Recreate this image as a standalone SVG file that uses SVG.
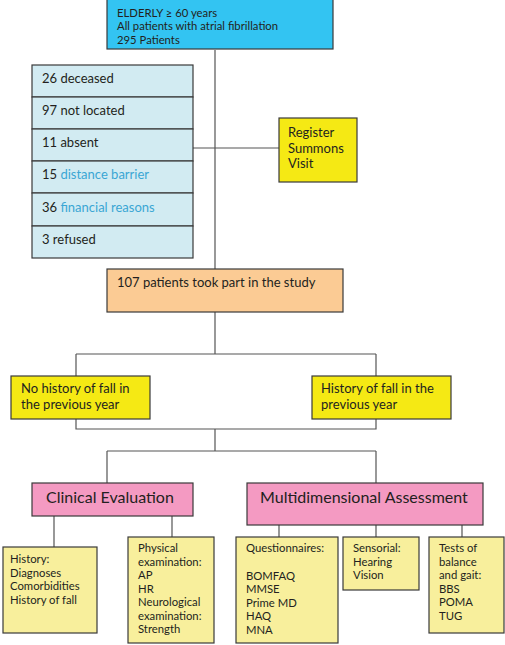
<svg xmlns="http://www.w3.org/2000/svg" width="505" height="645" viewBox="0 0 505 645">
<style>
text{font-family:Lato,"Liberation Sans",sans-serif;fill:#231f20}
.box{stroke:#3a3a3a;stroke-width:1.2}
.blue{fill:#33c4f2}
.list{fill:#d2ebf2}
.yel{fill:#f5e914}
.org{fill:#fbcb94}
.pink{fill:#f49ac2}
.pale{fill:#f8ef9c}
.t11{font-size:11.3px}
.t13{font-size:13px}
.t12{font-size:11.3px}
.t16{font-size:16px}
.hl{fill:#3aa6d4}
.conn{fill:none;stroke:#555;stroke-width:1.2}
</style>
<g id="connectors">
<path class="conn" d="M215 50V269M193 148H279M215 312V354M76 354H376M76 354V376M376 354V376M76 419V429H376V419M215 429V451M107 451H376M107 451V483M376 451V483M54 516V547M172 516V537M279 525V537M376 525V537M462 525V537"/>
</g>
<g id="n-elderly">
<rect class="box blue" x="107" y="-1" width="226" height="50"/>
<text class="t11" x="117" y="17">ELDERLY ≥ 60 years</text>
<text class="t11" x="117" y="30">All patients with atrial fibrillation</text>
<text class="t11" x="117" y="43.5">295 Patients</text>
</g>
<g id="n-excluded">
<rect class="box list" x="32" y="65" width="161" height="32"/>
<rect class="box list" x="32" y="97" width="161" height="32"/>
<rect class="box list" x="32" y="129" width="161" height="32"/>
<rect class="box list" x="32" y="161" width="161" height="32"/>
<rect class="box list" x="32" y="193" width="161" height="33"/>
<rect class="box list" x="32" y="226" width="161" height="32"/>
<text class="t13" x="42" y="83">26 deceased</text>
<text class="t13" x="42" y="115">97 not located</text>
<text class="t13" x="42" y="147">11 absent</text>
<text class="t13" x="42" y="179">15 <tspan class="hl">distance barrier</tspan></text>
<text class="t13" x="42" y="212">36 <tspan class="hl">financial reasons</tspan></text>
<text class="t13" x="42" y="244">3 refused</text>
</g>
<g id="n-register">
<rect class="box yel" x="279" y="118" width="78" height="64"/>
<text class="t13" x="288" y="137">Register</text>
<text class="t13" x="288" y="153">Summons</text>
<text class="t13" x="288" y="168">Visit</text>
</g>
<g id="n-study">
<rect class="box org" x="107" y="269" width="236" height="43"/>
<text class="t13" x="117" y="287">107 patients took part in the study</text>
</g>
<g id="n-nofall">
<rect class="box yel" x="11" y="376" width="139" height="43"/>
<text class="t13" x="21" y="393">No history of fall in</text>
<text class="t13" x="21" y="409">the previous year</text>
</g>
<g id="n-fall">
<rect class="box yel" x="312" y="376" width="139" height="43"/>
<text class="t13" x="321" y="393">History of fall in the</text>
<text class="t13" x="321" y="409">previous year</text>
</g>
<g id="n-clinical">
<rect class="box pink" x="32" y="483" width="161" height="33"/>
<text class="t16" x="46" y="503">Clinical Evaluation</text>
</g>
<g id="n-multi">
<rect class="box pink" x="247" y="483" width="236" height="42"/>
<text class="t16" x="260" y="503">Multidimensional Assessment</text>
</g>
<g id="n-history">
<rect class="box pale" x="3" y="547" width="94" height="86"/>
<text class="t12" x="10" y="563">History:</text>
<text class="t12" x="10" y="576.5">Diagnoses</text>
<text class="t12" x="10" y="590">Comorbidities</text>
<text class="t12" x="10" y="603.5">History of fall</text>
</g>
<g id="n-physical">
<rect class="box pale" x="128" y="537" width="86" height="106"/>
<text class="t12" x="138" y="552">Physical</text>
<text class="t12" x="138" y="565.5">examination:</text>
<text class="t12" x="138" y="579">AP</text>
<text class="t12" x="138" y="592.5">HR</text>
<text class="t12" x="138" y="606">Neurological</text>
<text class="t12" x="138" y="619.5">examination:</text>
<text class="t12" x="138" y="633">Strength</text>
</g>
<g id="n-quest">
<rect class="box pale" x="236" y="537" width="102" height="106"/>
<text class="t12" x="246" y="552">Questionnaires:</text>
<text class="t12" x="246" y="579.5">BOMFAQ</text>
<text class="t12" x="246" y="593">MMSE</text>
<text class="t12" x="246" y="606.5">Prime MD</text>
<text class="t12" x="246" y="620">HAQ</text>
<text class="t12" x="246" y="633.5">MNA</text>
</g>
<g id="n-sensorial">
<rect class="box pale" x="343" y="537" width="76" height="53"/>
<text class="t12" x="353" y="552">Sensorial:</text>
<text class="t12" x="353" y="565.5">Hearing</text>
<text class="t12" x="353" y="579">Vision</text>
</g>
<g id="n-tests">
<rect class="box pale" x="429" y="537" width="75" height="96"/>
<text class="t12" x="439" y="552">Tests of</text>
<text class="t12" x="439" y="565.5">balance</text>
<text class="t12" x="439" y="579">and gait:</text>
<text class="t12" x="439" y="592.5">BBS</text>
<text class="t12" x="439" y="606">POMA</text>
<text class="t12" x="439" y="619.5">TUG</text>
</g>
</svg>
